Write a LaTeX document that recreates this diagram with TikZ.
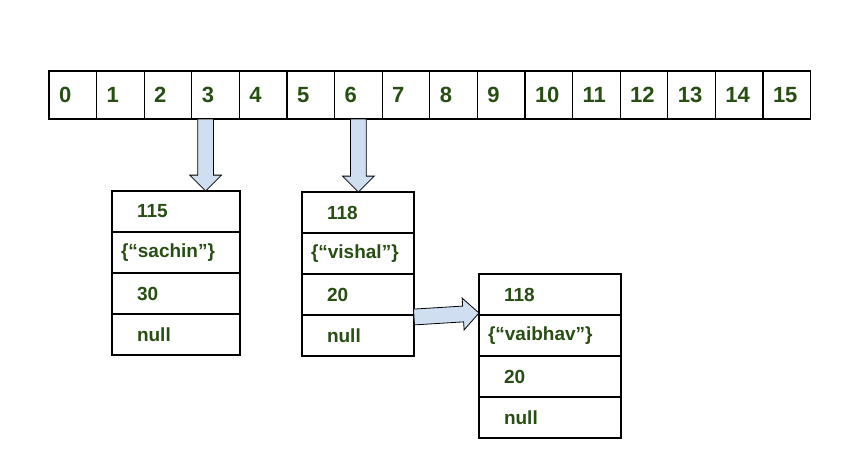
\documentclass[tikz,border=0pt]{standalone}
\usepackage{fontspec}
\setmainfont{Liberation Sans}
\usetikzlibrary{shapes.arrows,calc,positioning}
\definecolor{txtgreen}{HTML}{274E13}
\definecolor{arrowblue}{HTML}{CFDFF1}

\begin{document}
\begin{tikzpicture}[x=1pt,y=-1pt,
  every node/.style={outer sep=0pt, text=txtgreen},
  cell/.style={draw, line width=1.3pt, anchor=north west, minimum height=48pt,
    inner xsep=10pt, text width=27.6pt, align=left, font=\fontsize{22}{26}\selectfont\bfseries},
  rowbox/.style={draw, line width=1.3pt, minimum height=41pt, align=left,
    font=\fontsize{19}{22}\selectfont\bfseries},
  numrow/.style={rowbox, inner xsep=25pt},
  strrow/.style={rowbox, inner xsep=9pt},
  blockarrow/.style={single arrow, draw=black, line width=0.8pt, fill=arrowblue,
    inner xsep=0pt, inner ysep=7.5pt, minimum width=31pt, single arrow head extend=8pt,
    anchor=tail}]
  \useasboundingbox (0,0) rectangle (845,448);

  % hash table slots
  \foreach \i in {0,...,15}
    \node[cell] (c\i) at (49+47.6*\i,71) {\i};

  % entry at slot 3
  \node[numrow, text width=78pt, anchor=north west] (b1r1) at (112,191) {115};
  \node[strrow, text width=110pt, below=0pt of b1r1] (b1r2) {\{“sachin”\}};
  \node[numrow, text width=78pt, below=0pt of b1r2] (b1r3) {30};
  \node[numrow, text width=78pt, below=0pt of b1r3] (b1r4) {null};

  % entry at slot 6
  \node[numrow, text width=62pt, anchor=north west] (b2r1) at (302,192) {118};
  \node[strrow, text width=94pt, below=0pt of b2r1] (b2r2) {\{“vishal”\}};
  \node[numrow, text width=62pt, below=0pt of b2r2] (b2r3) {20};
  \node[numrow, text width=62pt, below=0pt of b2r3] (b2r4) {null};

  % chained entry
  \node[numrow, text width=92pt, anchor=north west] (b3r1) at (479,274) {118};
  \node[strrow, text width=124pt, below=0pt of b3r1] (b3r2) {\{“vaibhav”\}};
  \node[numrow, text width=92pt, below=0pt of b3r2] (b3r3) {20};
  \node[numrow, text width=92pt, below=0pt of b3r3] (b3r4) {null};

  % arrows
  \coordinate (a1s) at ($(c3.south)+(-10,0)$);
  \coordinate (a1e) at (a1s |- b1r1.north);
  \coordinate (a2s) at (c6.south);
  \coordinate (a2e) at (a2s |- b2r1.north);
  \coordinate (a3s) at ($(b2r3.south east)+(0,2)$);
  \coordinate (a3e) at ($(b3r1.south west)+(0,-2)$);
  \foreach \s/\e in {a1s/a1e,a2s/a2e,a3s/a3e}
    \path let \p1=(\s), \p2=(\e), \n1={atan2(\y2-\y1,\x2-\x1)},
      \n2={veclen(\x2-\x1,\y2-\y1)} in
      node[blockarrow, rotate=\n1, minimum height=\n2] at (\p1) {};
\end{tikzpicture}
\end{document}
